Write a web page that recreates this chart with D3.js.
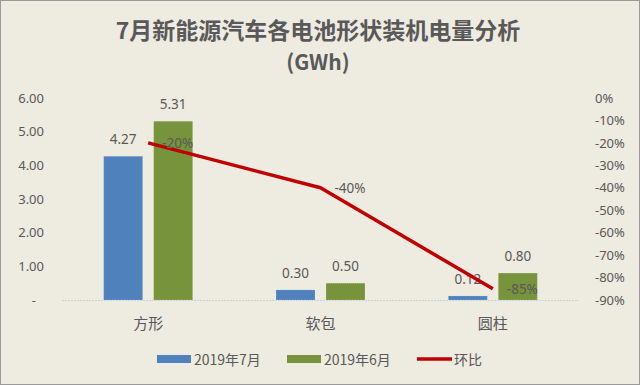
<!DOCTYPE html>
<html><head><meta charset="utf-8">
<script src="https://cdn.jsdelivr.net/npm/d3@7"></script>
<style>
html,body{margin:0;padding:0;background:#EEEBE0;}
svg{display:block;}
text{font-family:"Noto Sans CJK SC","Noto Sans",sans-serif;fill:#595959;}
</style></head>
<body>
<svg id="chart" width="640" height="385"></svg>
<script>
const categories = ["方形", "软包", "圆柱"];
const seriesNames = ["2019年7月", "2019年6月"];
const july = [4.27, 0.30, 0.12];
const june = [5.31, 0.50, 0.80];
const ratio = [-0.20, -0.40, -0.85];
const leftTicks = [0, 1, 2, 3, 4, 5, 6];
const rightTicks = [0, -0.1, -0.2, -0.3, -0.4, -0.5, -0.6, -0.7, -0.8, -0.9];
const lineName = "环比";

const colors = ["#4F81BD", "#77933C"];
const lineColor = "#C00000";
const pct = d => d3.format(".0%")(d).replace("\u2212", "-");

const svg = d3.select("#chart");
svg.append("rect").attr("x",0.5).attr("y",0.5).attr("width",639).attr("height",384)
  .attr("fill","#EEEBE0").attr("stroke","#9a9a9a").attr("stroke-width",1);

const pLeft = 62, pRight = 579, pTop = 98, pBottom = 300;
const x0 = d3.scaleBand().domain(categories).range([pLeft, pRight]);
const groupW = 89;
const x1 = d3.scaleBand().domain(seriesNames).range([0, groupW]).paddingInner(0.22);
const yL = d3.scaleLinear().domain([0, 6]).range([pBottom, pTop]);
const yR = d3.scaleLinear().domain([-0.9, 0]).range([pBottom, pTop]);

// title
svg.append("text").attr("x", 318).attr("y", 39).attr("text-anchor","middle")
  .style("font-size","23px").style("font-weight","bold").text("7月新能源汽车各电池形状装机电量分析");
svg.append("text").attr("x", 318).attr("y", 70).attr("text-anchor","middle")
  .style("font-size","21px").style("font-weight","bold").text("(GWh)");

// left axis
const axL = d3.axisLeft(yL).tickValues(leftTicks).tickSize(0).tickPadding(0)
  .tickFormat(d => d === 0 ? "-" : d3.format(".2f")(d));
const gL = svg.append("g").attr("transform", `translate(44,0)`).call(axL);
gL.select(".domain").remove();
gL.selectAll("text").style("font-size","13px").style("font-family","\"Noto Sans\",sans-serif").attr("fill","#595959")
  .attr("dx", d => d === 0 ? -8 : 0);

// right axis
const axR = d3.axisRight(yR).tickValues(rightTicks).tickSize(0).tickPadding(0).tickFormat(pct);
const gR = svg.append("g").attr("transform", `translate(595,0)`).call(axR);
gR.select(".domain").remove();
gR.selectAll("text").style("font-size","13px").style("font-family","\"Noto Sans\",sans-serif").attr("fill","#595959");

// baseline
svg.append("line").attr("x1", pLeft).attr("x2", pRight).attr("y1", pBottom+0.5).attr("y2", pBottom+0.5)
  .attr("stroke","#C9D3D9").attr("stroke-width",1).attr("stroke-dasharray","2,1");

// bars
const data = categories.map((c,i) => ({c, vals:[july[i], june[i]]}));
const off = (x0.bandwidth() - groupW)/2;
const g = svg.append("g");
data.forEach(d => {
  d.vals.forEach((v, j) => {
    const bx = x0(d.c) + off + x1(seriesNames[j]);
    g.append("rect").attr("x", bx).attr("y", yL(v)).attr("width", x1.bandwidth())
      .attr("height", yL(0) - yL(v)).attr("fill", colors[j])
      .attr("stroke","#ffffff").attr("stroke-opacity",0.35).attr("stroke-width",0.8).attr("stroke-dasharray","1,1");
    g.append("text").attr("x", bx + x1.bandwidth()/2).attr("y", yL(v) - 12)
      .attr("text-anchor","middle").style("font-size","13.5px").style("font-family","\"Noto Sans\",sans-serif")
      .text(d3.format(".2f")(v));
  });
});

// line
const lineGen = d3.line().x((d,i) => x0(categories[i]) + x0.bandwidth()/2).y(d => yR(d));
svg.append("path").datum(ratio).attr("d", lineGen).attr("fill","none")
  .attr("stroke", lineColor).attr("stroke-width",3.5).attr("stroke-linejoin","round");
ratio.forEach((r,i) => {
  svg.append("text").attr("x", x0(categories[i]) + x0.bandwidth()/2 + 14).attr("y", yR(r) + 5)
    .style("font-size","13.5px").style("font-family","\"Noto Sans\",sans-serif").text(pct(r));
});

// category labels
categories.forEach(c => {
  svg.append("text").attr("x", x0(c) + x0.bandwidth()/2).attr("y", 329).attr("text-anchor","middle")
    .style("font-size","15px").text(c);
});

// legend
const leg = svg.append("g");
const legItems = [
  {name: seriesNames[0], type:"bar", color: colors[0], x:157},
  {name: seriesNames[1], type:"bar", color: colors[1], x:287},
  {name: lineName, type:"line", color: lineColor, x:417}
];
legItems.forEach(it => {
  if (it.type === "bar") {
    leg.append("rect").attr("x", it.x).attr("y", 355).attr("width", 34).attr("height", 8).attr("fill", it.color);
  } else {
    leg.append("line").attr("x1", it.x).attr("x2", it.x+35).attr("y1", 359).attr("y2", 359)
      .attr("stroke", it.color).attr("stroke-width", 3.5);
  }
  leg.append("text").attr("x", it.x + 37).attr("y", 364.5).style("font-size","14px").text(it.name);
});
</script>
</body></html>
